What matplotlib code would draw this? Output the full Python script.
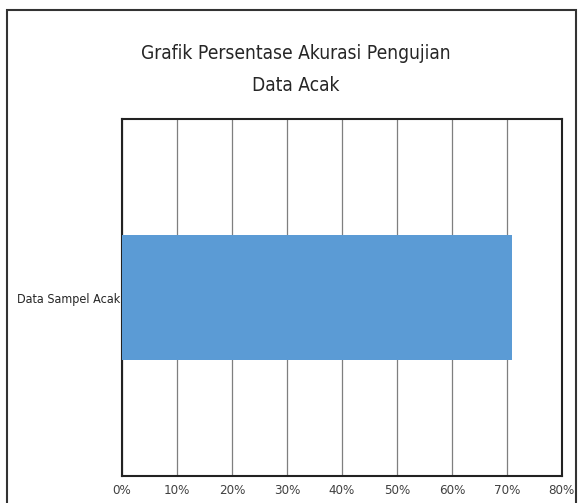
import matplotlib.pyplot as plt
from matplotlib.patches import Rectangle
from matplotlib.ticker import PercentFormatter

categories = ['Data Sampel Acak']
values = [71]
xticks = [0, 10, 20, 30, 40, 50, 60, 70, 80]

plt.rcParams['font.family'] = ['DejaVu Sans']
plt.rcParams['font.stretch'] = 'condensed'

fig = plt.figure(figsize=(5.78, 5.03), dpi=100)
ax = fig.add_axes([0.211, 0.054, 0.761, 0.709])

ax.barh(categories, values, height=0.35, color='#5B9BD5', zorder=3)
ax.set_xlim(0, 80)
ax.set_ylim(-0.5, 0.5)
ax.set_xticks(xticks)
ax.xaxis.set_major_formatter(PercentFormatter(decimals=0))
ax.grid(axis='x', color='#7f7f7f', linewidth=0.9, zorder=0)
ax.tick_params(axis='x', length=0, labelsize=9.5, colors='#404040', pad=6)
ax.tick_params(axis='y', length=0, labelsize=9, colors='#262626', pad=1)
for s in ax.spines.values():
    s.set_color('#222222')
    s.set_linewidth(1.5)

fig.text(0.512, 1 - 59/503, 'Grafik Persentase Akurasi Pengujian',
         ha='center', va='baseline', fontsize=13.8, color='#262626')
fig.text(0.512, 1 - 91/503, 'Data Acak',
         ha='center', va='baseline', fontsize=13.8, color='#262626')

# outer chart border
fig.patches.append(Rectangle((7/578, -0.02), (569/578), 1 - 10/503 + 0.02,
                             transform=fig.transFigure, fill=False,
                             edgecolor='#333333', linewidth=1.5))

fig.savefig('out.png', dpi=100)
